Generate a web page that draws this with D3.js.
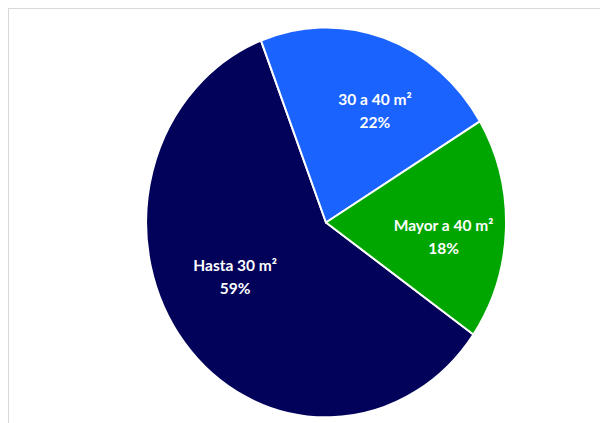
<!DOCTYPE html>
<html>
<head>
<meta charset="utf-8">
<script src="https://cdn.jsdelivr.net/npm/d3@7"></script>
<style>
  body { margin: 0; background: #fff; }
  svg { display: block; }
</style>
</head>
<body>
<svg id="chart" width="600" height="423"></svg>
<script>
const categories = ['Hasta 30 m²', '30 a 40 m²', 'Mayor a 40 m²'];
const shares = [59.4, 22.2, 18.4];
const shareLabels = ['59%', '22%', '18%'];
const colors = ['#02025a', '#1b63ff', '#00a600'];

// Excel-style placement tweaks for the labels, in px
const labelNudge = [[-3, -20], [13, 3], [6, 11]];

const width = 600;
const height = 423;
const cx = 326;
const cy = 222.5;
const rx = 180;
const ry = 195;
const firstAngle = 125 * Math.PI / 180;

const svg = d3.select('#chart');

// chart frame (cut off on right and bottom)
svg.append('rect')
  .attr('x', 8.5)
  .attr('y', 8.5)
  .attr('width', width)
  .attr('height', height)
  .attr('fill', 'none')
  .attr('stroke', '#d9d9d9')
  .attr('stroke-width', 1);

const rows = categories.map((c, i) => ({ name: c, value: shares[i], label: shareLabels[i], color: colors[i], i }));

const pie = d3.pie()
  .sort(null)
  .value(d => d.value)
  .startAngle(firstAngle)
  .endAngle(firstAngle + 2 * Math.PI);

const arcs = pie(rows);
const arc = d3.arc().innerRadius(0).outerRadius(1);

const g = svg.append('g')
  .attr('transform', `translate(${cx},${cy}) scale(${rx},${ry})`);

g.selectAll('path')
  .data(arcs)
  .enter()
  .append('path')
  .attr('d', arc)
  .attr('fill', d => d.data.color)
  .attr('stroke', '#fff')
  .attr('stroke-width', 2)
  .attr('vector-effect', 'non-scaling-stroke')
  .attr('stroke-linejoin', 'round');

const labelArc = d3.arc().innerRadius(0.62).outerRadius(0.62);

const labels = svg.append('g')
  .selectAll('text')
  .data(arcs)
  .enter()
  .append('text')
  .attr('transform', d => {
    const [px, py] = labelArc.centroid(d);
    const n = labelNudge[d.data.i];
    return `translate(${cx + px * rx + n[0]},${cy + py * ry + n[1]})`;
  })
  .attr('text-anchor', 'middle')
  .attr('fill', '#fff')
  .style('font-family', 'Lato, "Open Sans", sans-serif')
  .style('font-weight', 700)
  .style('font-size', '15.5px');

labels.append('tspan')
  .attr('x', 0)
  .attr('y', -6.5)
  .text(d => d.data.name);

labels.append('tspan')
  .attr('x', 0)
  .attr('y', 16.5)
  .text(d => d.data.label);
</script>
</body>
</html>
